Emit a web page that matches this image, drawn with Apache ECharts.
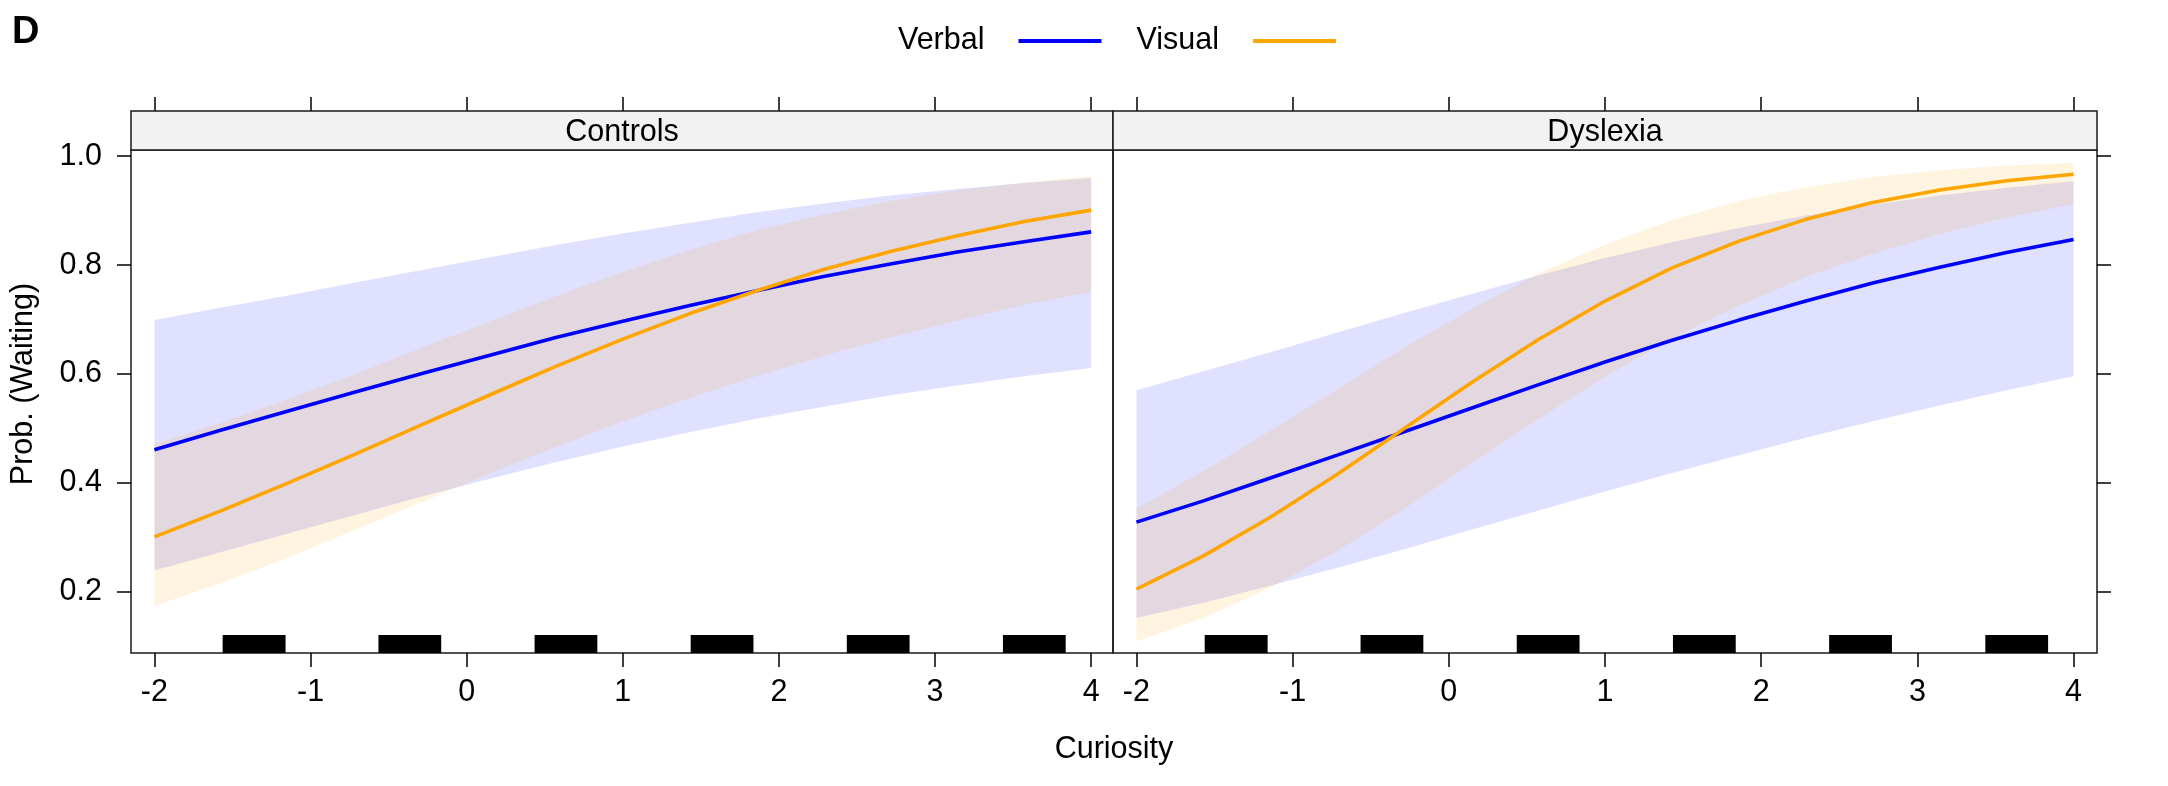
<!DOCTYPE html>
<html>
<head>
<meta charset="utf-8">
<script src="https://cdn.jsdelivr.net/npm/echarts@6/dist/echarts.min.js"></script>
<style>
html,body{margin:0;padding:0;background:#fff;}
#chart{width:2168px;height:786px;}
</style>
</head>
<body>
<div id="chart"></div>
<script>
// ---------------- data ----------------
const panels = ['Controls', 'Dyslexia'];
const groups = ['Verbal', 'Visual'];
const xTicks = [-2, -1, 0, 1, 2, 3, 4];
const yTicks = [0.2, 0.4, 0.6, 0.8, 1.0];
const curiosity = [-2, -1.571, -1.143, -0.714, -0.286, 0.143, 0.571, 1, 1.429, 1.857, 2.286, 2.714, 3.143, 3.571, 4];

const ctrlVerbalFit = [0.461, 0.497, 0.532, 0.567, 0.601, 0.634, 0.667, 0.697, 0.726, 0.753, 0.779, 0.802, 0.824, 0.843, 0.861];
const ctrlVerbalLo  = [0.239, 0.273, 0.307, 0.341, 0.375, 0.407, 0.438, 0.467, 0.493, 0.518, 0.540, 0.561, 0.579, 0.596, 0.611];
const ctrlVerbalHi  = [0.699, 0.722, 0.744, 0.768, 0.791, 0.814, 0.837, 0.858, 0.878, 0.897, 0.913, 0.928, 0.940, 0.951, 0.960];
const ctrlVisualFit = [0.301, 0.349, 0.400, 0.453, 0.507, 0.561, 0.614, 0.664, 0.711, 0.753, 0.792, 0.825, 0.854, 0.880, 0.901];
const ctrlVisualLo  = [0.174, 0.216, 0.263, 0.314, 0.365, 0.417, 0.466, 0.513, 0.556, 0.596, 0.633, 0.667, 0.698, 0.727, 0.751];
const ctrlVisualHi  = [0.471, 0.511, 0.554, 0.600, 0.648, 0.696, 0.743, 0.788, 0.828, 0.864, 0.893, 0.918, 0.937, 0.952, 0.963];

const dysVerbalFit = [0.328, 0.367, 0.409, 0.451, 0.494, 0.537, 0.580, 0.622, 0.662, 0.699, 0.734, 0.767, 0.796, 0.823, 0.847];
const dysVerbalLo  = [0.152, 0.180, 0.211, 0.244, 0.278, 0.314, 0.349, 0.384, 0.418, 0.451, 0.483, 0.513, 0.542, 0.570, 0.596];
const dysVerbalHi  = [0.570, 0.605, 0.640, 0.676, 0.712, 0.747, 0.781, 0.813, 0.842, 0.868, 0.891, 0.911, 0.928, 0.942, 0.954];
const dysVisualFit = [0.205, 0.266, 0.337, 0.416, 0.500, 0.584, 0.663, 0.734, 0.795, 0.844, 0.884, 0.915, 0.938, 0.955, 0.967];
const dysVisualLo  = [0.109, 0.152, 0.208, 0.275, 0.352, 0.435, 0.517, 0.595, 0.665, 0.726, 0.778, 0.821, 0.857, 0.887, 0.912];
const dysVisualHi  = [0.353, 0.422, 0.496, 0.572, 0.648, 0.719, 0.784, 0.838, 0.883, 0.918, 0.943, 0.962, 0.974, 0.983, 0.988];

const rugStart = [-1.563, -0.565, 0.435, 1.435, 2.435, 3.435];
const rugEnd   = [-1.160, -0.163, 0.837, 1.837, 2.837, 3.837];

// ---------------- styling ----------------
const FONT = '"Liberation Sans", Arial, Helvetica, sans-serif';
const FS = 30.5;
const lineColors = { Verbal: '#0000ff', Visual: '#ffa500' };
const bandColors = { Verbal: 'rgba(0,0,255,0.122)', Visual: 'rgba(255,165,0,0.122)' };
const Y_MIN = 0.0876, Y_MAX = 1.0114;

const dataByPanel = [
  { Verbal: [ctrlVerbalFit, ctrlVerbalLo, ctrlVerbalHi], Visual: [ctrlVisualFit, ctrlVisualLo, ctrlVisualHi] },
  { Verbal: [dysVerbalFit, dysVerbalLo, dysVerbalHi], Visual: [dysVisualFit, dysVisualLo, dysVisualHi] }
];

const gridDefs = [
  { left: 131, top: 150, width: 982, height: 503 },
  { left: 1113, top: 150, width: 984, height: 503 }
];
const xRanges = [[-2.15, 4.14], [-2.15, 4.15]];

const tickStyle = { color: '#000', width: 1.5 };

const grid = gridDefs.map(g => Object.assign({ show: true, borderColor: '#1a1a1a', borderWidth: 1.5, backgroundColor: 'transparent' }, g));

const xAxis = [];
const yAxis = [];
gridDefs.forEach((g, p) => {
  xAxis.push({
    gridIndex: p, type: 'value', min: xRanges[p][0], max: xRanges[p][1], position: 'bottom',
    axisLine: { show: false, onZero: false }, splitLine: { show: false },
    axisTick: { show: true, inside: false, length: 14, customValues: xTicks, lineStyle: tickStyle },
    axisLabel: { show: true, customValues: xTicks, margin: 24, color: '#000', fontSize: FS, fontFamily: FONT }
  });
  xAxis.push({
    gridIndex: p, type: 'value', min: xRanges[p][0], max: xRanges[p][1], position: 'top', offset: 39,
    axisLine: { show: false, onZero: false }, splitLine: { show: false },
    axisTick: { show: true, inside: false, length: 14, customValues: xTicks, lineStyle: tickStyle },
    axisLabel: { show: false, customValues: xTicks }
  });
  yAxis.push({
    gridIndex: p, type: 'value', min: Y_MIN, max: Y_MAX, position: p === 0 ? 'left' : 'right',
    axisLine: { show: false, onZero: false }, splitLine: { show: false },
    axisTick: { show: true, inside: false, length: 14, customValues: yTicks, lineStyle: tickStyle },
    axisLabel: { show: p === 0, customValues: yTicks, margin: 29, color: '#000', fontSize: FS, fontFamily: FONT,
      formatter: v => Number(v).toFixed(1) }
  });
});

function bandRender(params, api) {
  if (params.dataIndexInside !== 0) return null;
  const n = params.dataInsideLength;
  const pts = [];
  for (let j = 0; j < n; j++) pts.push(api.coord([api.value(0, j), api.value(2, j)]));
  for (let j = n - 1; j >= 0; j--) pts.push(api.coord([api.value(0, j), api.value(1, j)]));
  return { type: 'polygon', shape: { points: pts }, style: { fill: api.visual('color') } };
}

const series = [];
panels.forEach((panel, p) => {
  const xi = p * 2, yi = p;
  groups.forEach(gname => {
    const [fit, lo, hi] = dataByPanel[p][gname];
    series.push({
      name: gname + ' band', type: 'custom', xAxisIndex: xi, yAxisIndex: yi, silent: true, clip: true,
      data: curiosity.map((x, i) => [x, lo[i], hi[i]]),
      encode: { x: 0, y: [1, 2] },
      itemStyle: { color: bandColors[gname] },
      renderItem: bandRender
    });
    series.push({
      name: gname, type: 'line', xAxisIndex: xi, yAxisIndex: yi,
      data: curiosity.map((x, i) => [x, fit[i]]), symbol: 'none',
      lineStyle: { width: 3.6, color: lineColors[gname] }, itemStyle: { color: lineColors[gname] }
    });
  });
  series.push({
    name: 'rug ' + panel, type: 'custom', xAxisIndex: xi, yAxisIndex: yi, silent: true,
    data: rugStart.map((s, i) => [s, rugEnd[i], Y_MIN]),
    encode: { x: [0, 1], y: 2 },
    renderItem: function (params, api) {
      const a = api.coord([api.value(0), api.value(2)]);
      const b = api.coord([api.value(1), api.value(2)]);
      return { type: 'rect', shape: { x: a[0], y: a[1] - 18, width: b[0] - a[0], height: 18 }, style: { fill: '#000' } };
    }
  });
});

const graphic = [];
gridDefs.forEach((g, p) => {
  graphic.push({
    type: 'rect', shape: { x: g.left, y: 111, width: g.width, height: 39 },
    style: { fill: '#f2f2f2', stroke: '#1a1a1a', lineWidth: 1.5 }, z: 10
  });
  graphic.push({
    type: 'text', x: g.left + g.width / 2, y: 133, z: 11,
    style: { text: panels[p], fontSize: FS, fontFamily: FONT, fill: '#000', textAlign: 'center', textVerticalAlign: 'middle' }
  });
});
graphic.push({
  type: 'text', x: 24, y: 384, rotation: Math.PI / 2,
  style: { text: 'Prob. (Waiting)', fontSize: FS, fontFamily: FONT, fill: '#000', textAlign: 'center', textVerticalAlign: 'middle' }
});
graphic.push({
  type: 'text', x: 1114, y: 750,
  style: { text: 'Curiosity', fontSize: FS, fontFamily: FONT, fill: '#000', textAlign: 'center', textVerticalAlign: 'middle' }
});

const option = {
  animation: false,
  backgroundColor: '#fff',
  title: { text: 'D', left: 7, top: 9, textStyle: { fontSize: 38, fontWeight: 'bold', fontFamily: FONT, color: '#000' } },
  legend: {
    left: 893, top: 18, align: 'right', itemWidth: 83, itemHeight: 4, itemGap: 35,
    data: groups.map(gname => ({ name: gname, icon: 'rect', itemStyle: { color: lineColors[gname] } })),
    textStyle: { fontSize: FS, fontFamily: FONT, color: '#000', padding: [0, 29, 0, 0], lineHeight: 36 },
    selectedMode: false
  },
  grid, xAxis, yAxis, series, graphic
};

const chart = echarts.init(document.getElementById('chart'), null, { renderer: 'canvas' });
chart.setOption(option);
</script>
</body>
</html>
